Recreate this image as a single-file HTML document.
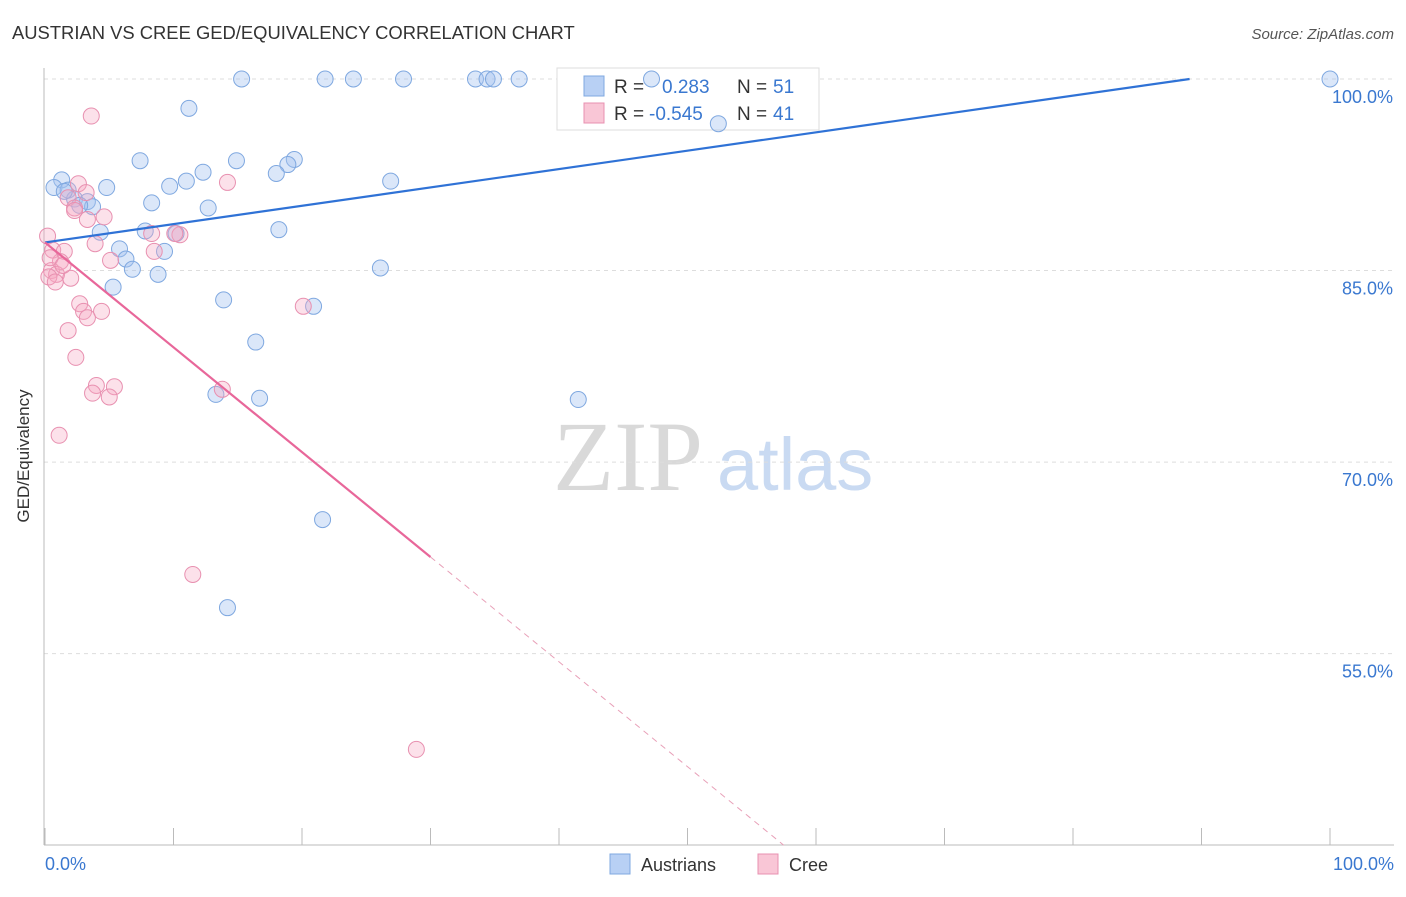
<!DOCTYPE html>
<html><head><meta charset="utf-8"><style>
body{margin:0;background:#fff;font-family:"Liberation Sans",sans-serif;}
</style></head><body>
<svg id="chart" width="1406" height="892" xmlns="http://www.w3.org/2000/svg" font-family="Liberation Sans, sans-serif">
<text x="12" y="39" font-size="18.4" fill="#333">AUSTRIAN VS CREE GED/EQUIVALENCY CORRELATION CHART</text>
<text x="1394" y="39" font-size="15" fill="#555" font-style="italic" text-anchor="end">Source: ZipAtlas.com</text>
<g>
<text x="553" y="490" font-size="100" fill="#d9d9d9" style="font-family:'Liberation Serif',serif">ZIP</text>
<text x="717" y="490" font-size="74" fill="#c9daf2">atlas</text>
</g>
<g id="grid"></g>
<line x1="44" y1="68" x2="44" y2="845" stroke="#bbb"/>
<line x1="44" y1="845" x2="1394" y2="845" stroke="#bbb"/>
<text x="29" y="456" font-size="17" fill="#333" text-anchor="middle" transform="rotate(-90 29 456)">GED/Equivalency</text>
<text x="45" y="870" font-size="18" fill="#3a78d0">0.0%</text>
<text x="1394" y="870" font-size="18" fill="#3a78d0" text-anchor="end">100.0%</text>
<g>
<rect x="557" y="68" width="262" height="62" fill="#fff" stroke="#ddd"/>
<rect x="584" y="76" width="20" height="20" fill="#b8d0f4" stroke="#7fa8e0"/>
<rect x="584" y="103" width="20" height="20" fill="#f9c6d6" stroke="#e890b0"/>
<text x="614" y="93" font-size="19" fill="#333">R =</text>
<text x="662" y="93" font-size="19" fill="#3a78d0">0.283</text>
<text x="737" y="93" font-size="19" fill="#333">N =</text>
<text x="773" y="93" font-size="19" fill="#3a78d0">51</text>
<text x="614" y="120" font-size="19" fill="#333">R =</text>
<text x="649" y="120" font-size="19" fill="#3a78d0">-0.545</text>
<text x="737" y="120" font-size="19" fill="#333">N =</text>
<text x="773" y="120" font-size="19" fill="#3a78d0">41</text>
</g>
<g id="marks"></g>
<g id="trend"></g>
<g>
<rect x="610" y="854" width="20" height="20" fill="#b8d0f4" stroke="#7fa8e0"/>
<text x="641" y="871" font-size="18" fill="#333">Austrians</text>
<rect x="758" y="854" width="20" height="20" fill="#f9c6d6" stroke="#e890b0"/>
<text x="789" y="871" font-size="18" fill="#333">Cree</text>
</g>
</svg>
<script>
const yTicks=[100,85,70,55];
const yTickLabels=["100.0%","85.0%","70.0%","55.0%"];
const xTickVals=[0,10,20,30,40,50,60,70,80,90,100];
const austX=[15.3,21.8,24.0,27.9,33.5,34.4,34.9,36.9,47.2,100,11.2,52.4,7.4,14.9,19.4,18.9,12.3,18.0,26.9,1.3,0.7,1.8,4.8,9.7,11.0,8.3,2.3,3.3,3.7,12.7,18.2,4.3,7.8,10.2,5.8,9.3,6.3,6.8,8.8,26.1,5.3,13.9,20.9,16.4,13.3,16.7,41.5,21.6,14.2,2.7,1.5];
const austY=[100,100,100,100,100,100,100,100,100,100,97.7,96.5,93.6,93.6,93.7,93.3,92.7,92.6,92.0,92.1,91.5,91.3,91.5,91.6,92.0,90.3,90.6,90.4,90.0,89.9,88.2,88.0,88.1,87.9,86.7,86.5,85.9,85.1,84.7,85.2,83.7,82.7,82.2,79.4,75.3,75.0,74.9,65.5,58.6,90.1,91.2];
const creeX=[3.6,14.2,2.6,3.2,1.8,2.3,4.6,3.3,10.5,8.3,0.2,3.9,0.6,1.5,8.5,5.1,1.2,0.5,0.9,0.3,2.0,0.8,2.7,20.1,3.0,4.4,3.3,1.8,2.4,4.0,5.4,3.7,5.0,13.8,1.1,11.5,28.9,2.3,0.4,1.4,10.1];
const creeY=[97.1,91.9,91.8,91.1,90.7,89.9,89.2,89.0,87.8,87.9,87.7,87.1,86.6,86.5,86.5,85.8,85.7,85.0,84.7,84.5,84.4,84.1,82.4,82.2,81.8,81.8,81.3,80.3,78.2,76.0,75.9,75.4,75.1,75.7,72.1,61.2,47.5,89.7,86.0,85.4,87.9];
const austTrend=[87.2,0.1437];
const creeTrend=[87.2,-0.821];
const NS="http://www.w3.org/2000/svg";
const sx=v=>45+v*12.85, sy=v=>79+(100-v)*12.77;
function mk(t,a,p){const e=document.createElementNS(NS,t);for(const k in a)e.setAttribute(k,a[k]);p.appendChild(e);return e;}
const grid=document.getElementById('grid');
yTicks.forEach((v,i)=>{
 const l=mk('line',{x1:44,x2:1394,y1:sy(v),y2:sy(v),stroke:'#ddd','stroke-dasharray':'4,4'},grid);
 
 
 const t=mk('text',{x:1393,y:sy(v)+24,'font-size':18,fill:'#3a78d0','text-anchor':'end'},grid);
 t.textContent=yTickLabels[i];
 
 
});
xTickVals.forEach(v=>{
 const l=mk('line',{x1:sx(v),x2:sx(v),y1:828,y2:845,stroke:'#bbb'},grid);
 
 
});
const marks=document.getElementById('marks');
austX.forEach((x,i)=>{
 const c=mk('circle',{cx:sx(x),cy:sy(austY[i]),r:8,fill:'rgba(164,196,240,0.4)',stroke:'#7fa8e0','stroke-width':1},marks);
 
 
});
creeX.forEach((x,i)=>{
 const c=mk('circle',{cx:sx(x),cy:sy(creeY[i]),r:8,fill:'rgba(245,170,195,0.35)',stroke:'#e890b0','stroke-width':1},marks);
 
 
});
const tr=document.getElementById('trend');
const aEnd=(100-austTrend[0])/austTrend[1];
const bl=mk('line',{x1:sx(0),y1:sy(austTrend[0]),x2:sx(aEnd),y2:sy(100),stroke:'#2f72d6','stroke-width':2.2},tr);


const cy=x=>creeTrend[0]+creeTrend[1]*x;
const pl=mk('line',{x1:sx(0),y1:sy(cy(0)),x2:sx(30),y2:sy(cy(30)),stroke:'#e8679a','stroke-width':2.2},tr);


const xe=(40-creeTrend[0])/creeTrend[1];
const pd=mk('line',{x1:sx(30),y1:sy(cy(30)),x2:sx(xe),y2:sy(40),stroke:'#e8a0b8','stroke-width':1,'stroke-dasharray':'6,5'},tr);


</script>
</body></html>
